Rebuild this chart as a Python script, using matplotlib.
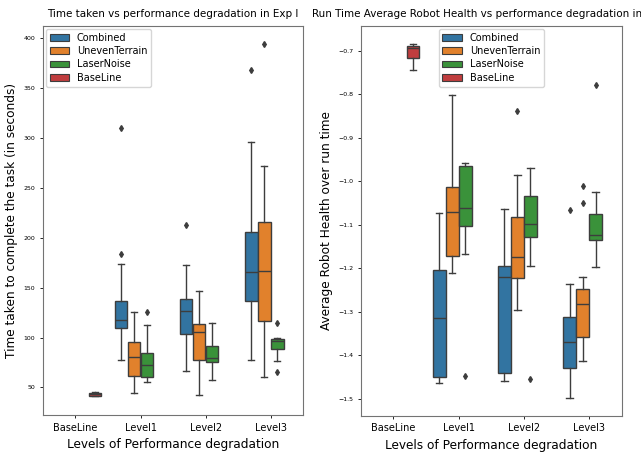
#
# Exp I : time taken / robot health vs performance degradation
# grouped box plots drawn from summary stats
#
import matplotlib
matplotlib.use("Agg")
import matplotlib.pyplot as plt
from matplotlib.patches import Patch

# categories / hues
levels = ["BaseLine", "Level1", "Level2", "Level3"]
hues = ["Combined", "UnevenTerrain", "LaserNoise", "BaseLine"]
hue_colors = ["#3274a1", "#e1812c", "#3a923a", "#c03d3e"]

# summary stats per (level, hue): whislo, q1, med, q3, whishi, fliers
time_stats = {
    ("BaseLine", "BaseLine"):   (41.0, 41.5, 43.0, 44.5, 45.5, []),
    ("Level1", "Combined"):     (77.5, 110, 118, 137, 174, [184, 310]),
    ("Level1", "UnevenTerrain"): (44.5, 61.5, 81, 96, 125.5, []),
    ("Level1", "LaserNoise"):   (55.7, 60, 72.7, 85, 112.5, [126]),
    ("Level2", "Combined"):     (66, 104, 127, 139, 173, [212.7]),
    ("Level2", "UnevenTerrain"): (42.4, 77.7, 106, 114, 147, []),
    ("Level2", "LaserNoise"):   (57.7, 75, 79.4, 92, 114.5, []),
    ("Level3", "Combined"):     (77.4, 137, 166, 206, 296, [368]),
    ("Level3", "UnevenTerrain"): (60, 116.8, 167, 215.7, 272, [394]),
    ("Level3", "LaserNoise"):   (76, 88.4, 97, 98.5, 100, [114.5, 65]),
}

health_stats = {
    ("BaseLine", "BaseLine"):   (-0.744, -0.716, -0.693, -0.690, -0.685, []),
    ("Level1", "Combined"):     (-1.464, -1.449, -1.315, -1.204, -1.072, []),
    ("Level1", "UnevenTerrain"): (-1.211, -1.172, -1.071, -1.014, -0.802, []),
    ("Level1", "LaserNoise"):   (-1.168, -1.102, -1.062, -0.965, -0.959, [-1.447]),
    ("Level2", "Combined"):     (-1.460, -1.440, -1.219, -1.194, -1.064, []),
    ("Level2", "UnevenTerrain"): (-1.296, -1.223, -1.175, -1.083, -0.985, [-0.838]),
    ("Level2", "LaserNoise"):   (-1.194, -1.127, -1.098, -1.034, -0.969, [-1.455]),
    ("Level3", "Combined"):     (-1.498, -1.430, -1.370, -1.312, -1.235, [-1.066]),
    ("Level3", "UnevenTerrain"): (-1.412, -1.358, -1.283, -1.248, -1.219, [-1.012, -1.050]),
    ("Level3", "LaserNoise"):   (-1.197, -1.136, -1.123, -1.075, -1.024, [-0.779]),
}

line_col = "#3d3d3d"


def draw(ax, stats):
    n = len(hues)
    slot = 0.8 / n
    for (lev, hue), (lo, q1, med, q3, hi, fl) in stats.items():
        i = levels.index(lev)
        j = hues.index(hue)
        pos = i - 0.4 + slot / 2 + j * slot
        ax.bxp([dict(whislo=lo, q1=q1, med=med, q3=q3, whishi=hi, fliers=fl)],
               positions=[pos], widths=slot * 0.98, patch_artist=True,
               manage_ticks=False,
               boxprops=dict(facecolor=hue_colors[j], edgecolor=line_col, linewidth=1.0),
               medianprops=dict(color=line_col, linewidth=1.0),
               whiskerprops=dict(color=line_col, linewidth=1.0),
               capprops=dict(color=line_col, linewidth=1.0),
               flierprops=dict(marker="d", markersize=3, markerfacecolor=line_col,
                               markeredgecolor=line_col))
    ax.set_xlim(-0.5, len(levels) - 0.5)
    ax.set_xticks(range(len(levels)))
    ax.set_xticklabels(levels, fontsize=7)
    ax.tick_params(axis="y", labelsize=4.5, length=2, width=0.6)
    ax.tick_params(axis="x", length=2, width=0.6)
    for s in ax.spines.values():
        s.set_color("0.45")
        s.set_linewidth(0.8)
    ax.set_xlabel("Levels of Performance degradation", fontsize=8.7)


fig = plt.figure(figsize=(6.41, 4.53), dpi=100)
ax1 = fig.add_axes([0.067, 0.084, 0.406, 0.859])
ax2 = fig.add_axes([0.563, 0.082, 0.407, 0.861])

draw(ax1, time_stats)
ax1.set_ylim(22.5, 412)
ax1.set_yticks([50, 100, 150, 200, 250, 300, 350, 400])
ax1.set_ylabel("Time taken to complete the task (in seconds)", fontsize=8.7)
ax1.set_title("Time taken vs performance degradation in Exp I", fontsize=7.5)

draw(ax2, health_stats)
ax2.set_ylim(-1.539, -0.643)
ax2.set_yticks([-1.5, -1.4, -1.3, -1.2, -1.1, -1.0, -0.9, -0.8, -0.7])
ax2.set_ylabel("Average Robot Health over run time", fontsize=8.7)
ax2.set_title("Run Time Average Robot Health vs performance degradation in Exp I", fontsize=7.5)

handles = [Patch(facecolor=c, edgecolor=line_col, linewidth=0.8, label=h)
           for h, c in zip(hues, hue_colors)]
ax1.legend(handles=handles, loc="upper left", fontsize=7, labelspacing=0.35,
           borderaxespad=0.3)
ax2.legend(handles=handles, loc="upper center", fontsize=7, labelspacing=0.35,
           borderaxespad=0.3)

fig.savefig("out.png", dpi=100)
